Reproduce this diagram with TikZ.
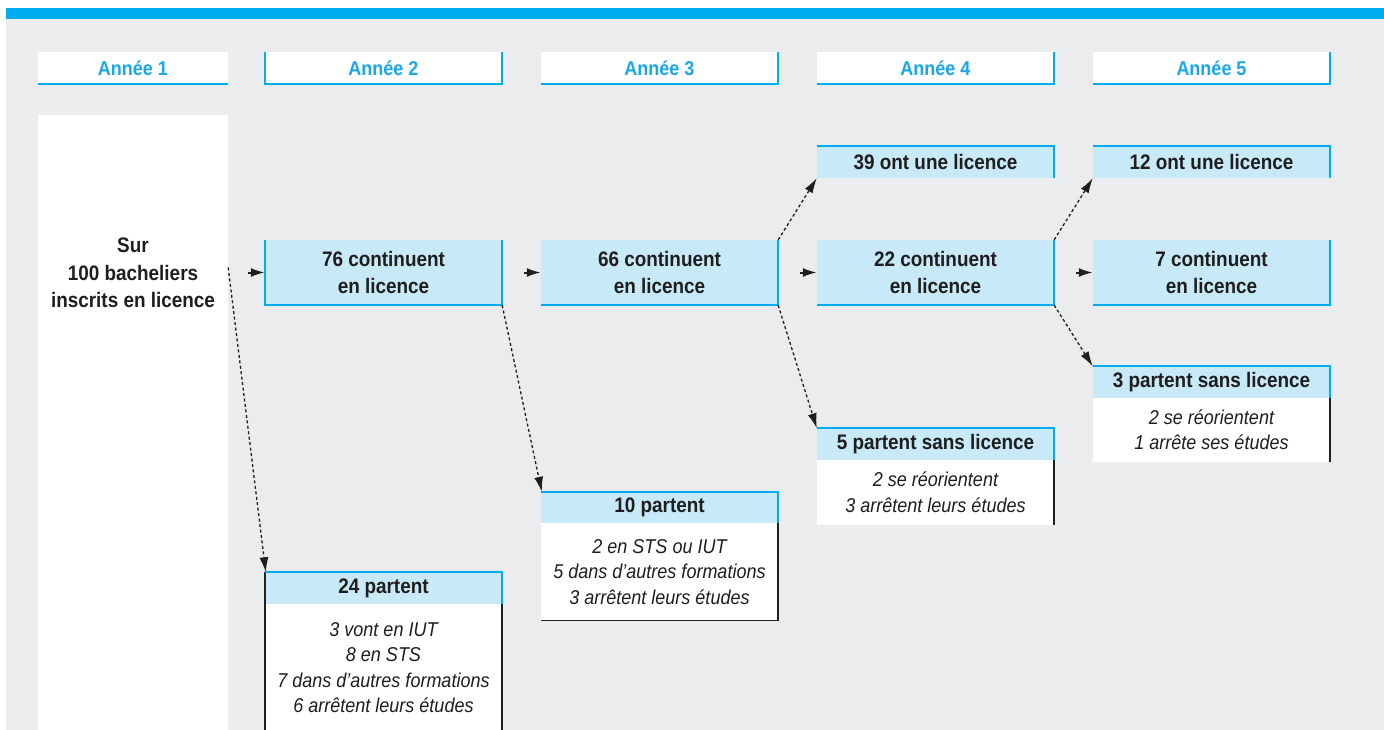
\documentclass[tikz,border=0pt]{standalone}
\usepackage{fontspec}
\setmainfont{Liberation Sans}[FakeStretch=0.9]
\usetikzlibrary{arrows.meta,calc}
\definecolor{cy}{HTML}{00AEEF}
\definecolor{lb}{HTML}{C8E9F8}
\definecolor{bg}{HTML}{EBECEE}
\definecolor{hb}{HTML}{1BA8E6}
\definecolor{ink}{HTML}{1E1E1E}
\tikzset{
  hdr/.style={fill=white, minimum width=190pt, minimum height=32pt, inner sep=0pt, text=hb, font=\bfseries\fontsize{20}{22}\selectfont},
  hdrw/.style={hdr, minimum width=237pt},
  cont/.style={fill=lb, minimum width=237pt, minimum height=65pt, inner sep=0pt, align=center, text=ink, font=\bfseries\fontsize{21}{27}\selectfont},
  lic/.style={fill=lb, minimum width=237pt, minimum height=32pt, inner sep=0pt, text=ink, font=\bfseries\fontsize{21}{23}\selectfont},
  phead/.style={fill=lb, minimum width=237pt, minimum height=31pt, inner sep=0pt, text=ink, font=\bfseries\fontsize{21}{23}\selectfont},
  pbody/.style={fill=white, minimum width=237pt, inner sep=0pt, align=center, text=ink, font=\itshape\fontsize{20}{25.5}\selectfont},
  bl/.style={draw=cy, line width=2pt},
  kl/.style={draw=ink, line width=1.6pt},
  flow/.style={draw=ink, line width=1.3pt, dash pattern=on 3pt off 2.5pt, -{Latex[length=15pt,width=9pt]}},
  short/.style={draw=ink, line width=2pt, -{Latex[length=14pt,width=9pt]}}
}
\begin{document}
\begin{tikzpicture}[x=1pt,y=-1pt]
\useasboundingbox (0,0) rectangle (1384,730);
\fill[bg] (6,18) rectangle (1384,730);
\fill[cy] (6,8) rectangle (1384,19);

% headers
\node[hdr]  (h1) at (133,68) {Année 1};
\node[hdrw] (h2) at (383.5,68) {Année 2};
\node[hdrw] (h3) at (659.5,68) {Année 3};
\node[hdrw] (h4) at (935.5,68) {Année 4};
\node[hdrw] (h5) at (1211.5,68) {Année 5};
\draw[bl] (h1.south west) -- (h1.south east);
\draw[bl] (h2.north west) -- (h2.south west) -- (h2.south east) -- (h2.north east);
\foreach \h in {h3,h4,h5}{\draw[bl] (\h.south west) -- (\h.south east) -- (\h.north east);}

% start column
\node[fill=white, minimum width=190pt, minimum height=615pt, inner sep=0pt] (s) at (133,422.5) {};
\draw[bl] ([yshift=-1.5pt]s.south west) -- ([yshift=-1.5pt]s.south east);
\node[align=center, text=ink, font=\bfseries\fontsize{21}{27.5}\selectfont] (st) at (133,273) {Sur\\100 bacheliers\\inscrits en licence};

% continuent
\node[cont] (c76) at (383.5,272.5) {76 continuent\\en licence};
\node[cont] (c66) at (659.5,272.5) {66 continuent\\en licence};
\node[cont] (c22) at (935.5,272.5) {22 continuent\\en licence};
\node[cont] (c7)  at (1211.5,272.5) {7 continuent\\en licence};
\draw[bl] (c76.north west) -- (c76.south west) -- (c76.south east) -- (c76.north east);
\foreach \c in {c66,c22,c7}{\draw[bl] (\c.south west) -- (\c.south east) -- (\c.north east);}

% licence
\node[lic] (l39) at (935.5,162) {39 ont une  licence};
\node[lic] (l12) at (1211.5,162) {12 ont une licence};
\foreach \c in {l39,l12}{\draw[bl] (\c.north west) -- (\c.north east) -- (\c.south east);}

% 24 partent
\node[phead] (p24h) at (383.5,588) {24 partent};
\node[pbody, minimum height=127pt, anchor=north] (p24b) at (p24h.south) {3 vont en IUT\\8 en STS\\7 dans d'autres formations\\6 arrêtent leurs études};
\draw[kl] (p24h.north west) -- (p24b.south west);
\draw[kl] (p24b.north east) -- (p24b.south east);
\draw[bl] (p24h.north west) -- (p24h.north east) -- (p24h.south east);

% 10 partent
\node[phead] (p10h) at (659.5,507.5) {10 partent};
\node[pbody, minimum height=97pt, anchor=north] (p10b) at (p10h.south) {2 en STS ou IUT\\5 dans d'autres formations\\3 arrêtent leurs études};
\draw[kl] (p10b.north east) -- (p10b.south east) -- (p10b.south west);
\draw[bl] (p10h.north west) -- (p10h.north east) -- (p10h.south east);

% 5 partent
\node[phead] (p5h) at (935.5,444) {5 partent sans licence};
\node[pbody, minimum height=65pt, anchor=north] (p5b) at (p5h.south) {2 se réorientent\\3 arrêtent leurs études};
\draw[kl] (p5b.north east) -- (p5b.south east);
\draw[bl] (p5h.north west) -- (p5h.north east) -- (p5h.south east);

% 3 partent
\node[phead] (p3h) at (1211.5,382) {3 partent sans licence};
\node[pbody, minimum height=64pt, anchor=north] (p3b) at (p3h.south) {2 se réorientent\\1 arrête ses études};
\draw[kl] (p3b.north east) -- (p3b.south east);
\draw[bl] (p3h.north west) -- (p3h.north east) -- (p3h.south east);

% short horizontal arrows
\draw[short] ([xshift=20pt]s.east |- c76.west) -- (c76.west);
\draw[short] ([xshift=-17pt]c66.west) -- (c66.west);
\draw[short] ([xshift=-17pt]c22.west) -- (c22.west);
\draw[short] ([xshift=-17pt]c7.west) -- (c7.west);

% dashed flows
\draw[flow] ([yshift=5pt]s.east |- c76.west) -- ([xshift=1pt]p24h.north west);
\draw[flow] (c76.south east) -- ([xshift=1pt]p10h.north west);
\draw[flow] (c66.north east) -- (l39.south west);
\draw[flow] (c66.south east) -- (p5h.north west);
\draw[flow] (c22.north east) -- (l12.south west);
\draw[flow] (c22.south east) -- (p3h.north west);
\end{tikzpicture}
\end{document}
